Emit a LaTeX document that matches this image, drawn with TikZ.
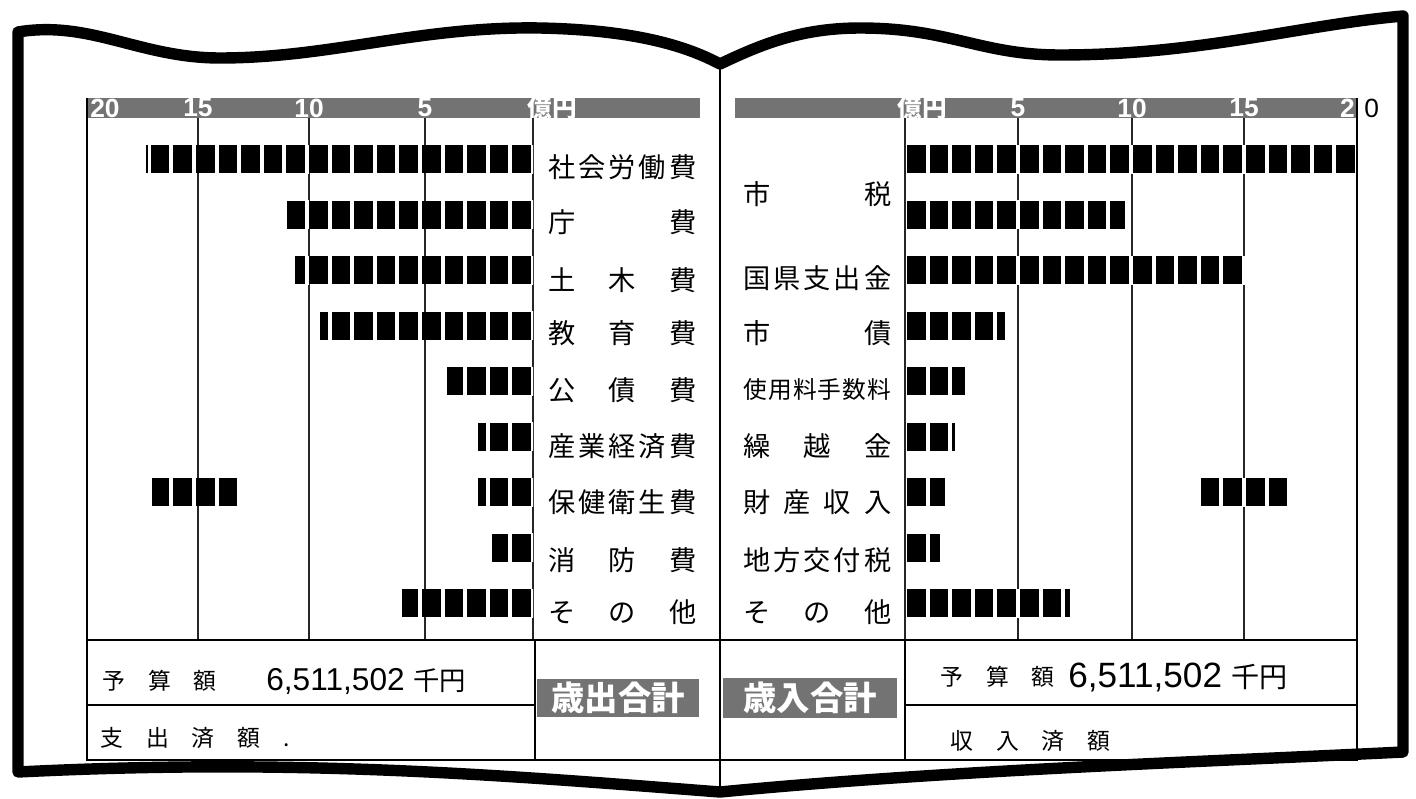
\documentclass[tikz,border=0pt]{standalone}
\usepackage{fontspec}
\newfontfamily\jp{Noto Sans CJK JP}
\newfontfamily\nums{Liberation Sans}
% one bar: row y, from x, to x, zero of the scale
\newcommand{\blockbar}[4]{%
  \begin{scope}
    \clip (#2,#1-14) rectangle (#3,#1+14);
    \fill (#2,#1-14) rectangle (#3,#1+14);
    \foreach \k in {-20,...,20}
      \draw[white,line width=2.2pt] ({#4+22.6*\k},#1-20) -- ++(0,40);
  \end{scope}}
% spread a label over the label column
\newcommand{\spread}[1]{\makebox[2.96cm][s]{#1}}

\begin{document}
\begin{tikzpicture}[x=0.02cm,y=-0.02cm,
  band/.style={fill=black!55},
  grid/.style={black!85,line width=0.6pt},
  frame/.style={line width=0.7pt},
  lab/.style={font=\jp\fontsize{15.5}{18}\selectfont,inner sep=0pt,anchor=west},
  tick/.style={font=\nums\bfseries\fontsize{15}{15}\selectfont,text=white,inner sep=0pt},
  total/.style={fill=black!55,text=white,font=\jp\bfseries\fontsize{19}{22}\selectfont,inner sep=0pt},
  note/.style={font=\jp\fontsize{13}{15}\selectfont,inner sep=0pt,anchor=west},
  sum/.style={font=\nums\fontsize{20}{24}\selectfont,inner sep=0pt,anchor=west}]
  \useasboundingbox (0,0) rectangle (1416,798);
  \def\rows{159,214.5,270,325.5,381,436.5,492,547.5,603}

  % header bands
  \fill[band] (87,98) rectangle (700,118);
  \fill[band] (735,98) rectangle (1357,118);
  \foreach \x/\t in {105/20,198/15,309/10,425/5}
    \node[tick] (lt\t) at (\x,108) {\t};
  \node[tick,font=\jp\bfseries\fontsize{14}{14}\selectfont] (lunit) at (552,108) {億円};
  \node[tick,font=\jp\bfseries\fontsize{14}{14}\selectfont] (runit) at (922,108) {億円};
  \foreach \x/\t in {1018/5,1132/10,1244/15}
    \node[tick] (rt\t) at (\x,108) {\t};
  \node[tick,anchor=east] (rtwo) at (1355,108) {2};
  \node[tick,text=black,font=\nums\fontsize{15}{15}\selectfont,anchor=west] (rzero) at (1364,108) {0};

  % scale lines
  \foreach \x in {198,309,425,533,905,1018,1132,1244}
    \draw[grid] (\x,118) -- (\x,640);

  % frames
  \draw[frame] (87,98) -- (87,760) -- (1357,760) -- (1357,98);
  \draw[frame] (87,640) -- (1357,640);
  \draw[frame] (535,640) -- (535,760);
  \draw[frame] (905,640) -- (905,760);
  \draw[frame] (87,705) -- (535,705);
  \draw[frame] (905,705) -- (1357,705);

  % expenditure bars
  \foreach \x [count=\i] in {150,287,295,320,447,478,478,492,402}{
    \pgfmathsetmacro{\y}{{\rows}[\i-1]}
    \blockbar{\y}{\x}{533}{533}
  }
  \blockbar{492}{152}{240}{533}
  \draw[line width=1.2pt] (147,145) -- (147,173);

  % revenue bars
  \foreach \x [count=\i] in {1355,1125,1245,1005,965,955,945,940,1070}{
    \pgfmathsetmacro{\y}{{\rows}[\i-1]}
    \blockbar{\y}{907}{\x}{905}
  }
  \blockbar{492}{1200}{1287}{905}

  % expenditure labels
  \node[lab] (shakai) at (548,167) {\spread{社\hfill 会\hfill 労\hfill 働\hfill 費}};
  \node[lab] (cho)    at (548,222) {\spread{庁\hfill 費}};
  \node[lab] (doboku) at (548,280) {\spread{土\hfill 木\hfill 費}};
  \node[lab] (kyoiku) at (548,333) {\spread{教\hfill 育\hfill 費}};
  \node[lab] (kosai)  at (548,390) {\spread{公\hfill 債\hfill 費}};
  \node[lab] (sangyo) at (548,446) {\spread{産\hfill 業\hfill 経\hfill 済\hfill 費}};
  \node[lab] (hoken)  at (548,502) {\spread{保\hfill 健\hfill 衛\hfill 生\hfill 費}};
  \node[lab] (shobo)  at (548,560) {\spread{消\hfill 防\hfill 費}};
  \node[lab] (lsonota) at (548,612) {\spread{そ\hfill の\hfill 他}};

  % revenue labels
  \node[lab] (shizei) at (743,194) {\spread{市\hfill 税}};
  \node[lab] (koken)  at (743,278) {\spread{国\hfill 県\hfill 支\hfill 出\hfill 金}};
  \node[lab] (shisai) at (743,333) {\spread{市\hfill 債}};
  \node[lab,font=\jp\fontsize{13.5}{16}\selectfont] (shiyo) at (743,390)
    {\spread{使\hfill 用\hfill 料\hfill 手\hfill 数\hfill 料}};
  \node[lab] (kurikoshi) at (743,446) {\spread{繰\hfill 越\hfill 金}};
  \node[lab] (zaisan) at (743,502) {\spread{財\hfill 産\hfill 収\hfill 入}};
  \node[lab] (kofu)   at (743,560) {\spread{地\hfill 方\hfill 交\hfill 付\hfill 税}};
  \node[lab] (rsonota) at (743,612) {\spread{そ\hfill の\hfill 他}};

  % totals
  \node[note] (lyosan) at (102,681) {予\quad 算\quad 額};
  \node[sum,font=\nums\fontsize{18}{22}\selectfont] (lsum) at (266,681) {6,511,502 \jp\fontsize{15}{18}\selectfont 千円};
  \node[note] (shishutsu) at (100,738) {支\quad 出\quad 済\quad 額\quad .};
  \node[total,minimum width=3.26cm,minimum height=0.76cm] (saishutsu) at (618,698) {歳出合計};
  \node[total,minimum width=3.5cm,minimum height=0.8cm] (sainyu) at (810,698) {歳入合計};
  \node[note] (ryosan) at (940,677) {予\quad 算\quad 額};
  \node[sum] (rsum) at (1068,677) {6,511,502 \jp\fontsize{16}{18}\selectfont 千円};
  \node[note] (shunyu) at (950,741) {収\quad 入\quad 済\quad 額};

  % book outline
  \draw[line width=6.5pt,line join=round]
    (18,772) -- (18,32)
    .. controls (90,20) and (140,58) .. (220,58)
    .. controls (330,58) and (420,26) .. (540,28)
    .. controls (640,30) and (690,48) .. (720,64)
    .. controls (760,45) and (800,28) .. (860,28)
    .. controls (950,28) and (980,55) .. (1060,55)
    .. controls (1200,55) and (1300,25) .. (1403,16)
    -- (1403,752)
    .. controls (1200,762) and (950,770) .. (720,792)
    .. controls (500,775) and (300,758) .. cycle;
  \draw[line width=1.2pt] (720,64) -- (720,792);
\end{tikzpicture}
\end{document}
